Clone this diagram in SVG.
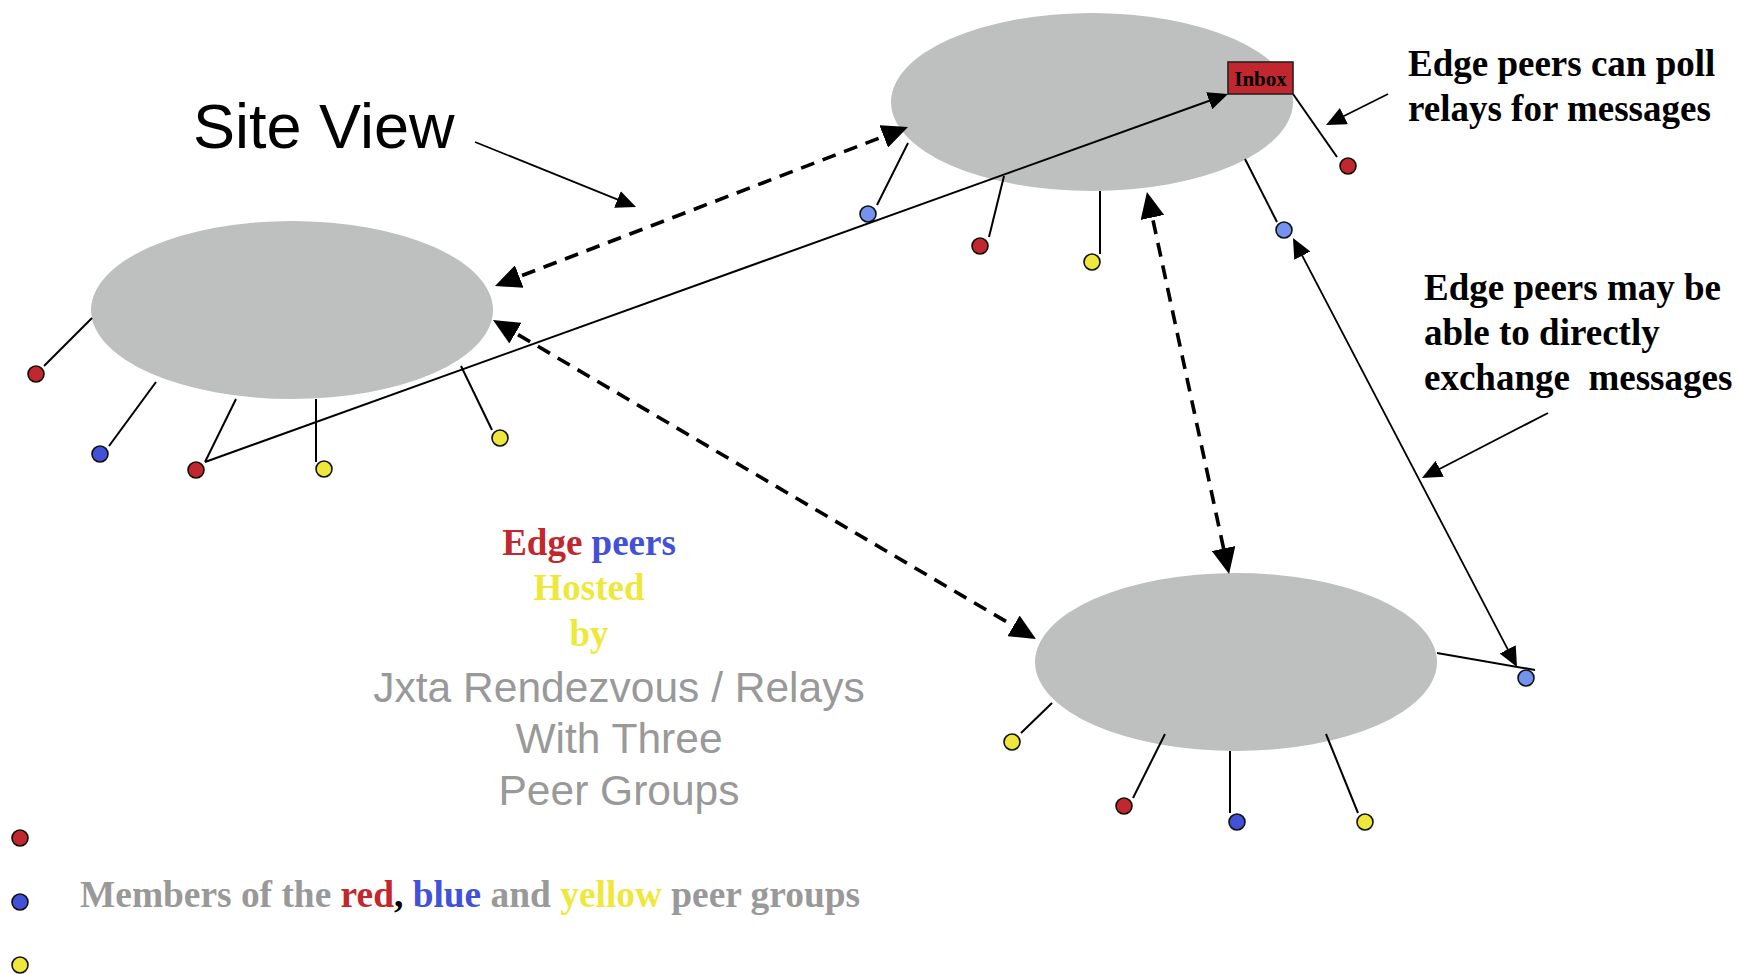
<svg xmlns="http://www.w3.org/2000/svg" width="1738" height="974" viewBox="0 0 1738 974">
  <style>
    .relay { fill: #BEC0BF; }
    .tie { stroke: #000; stroke-width: 2; fill: none; }
    .peer { stroke: #111; stroke-width: 1.6; }
    .red { fill: #C1272D; }
    .blue { fill: #4350D8; }
    .lblue { fill: #7393EE; }
    .yellow { fill: #EFE83C; }
    .link { stroke: #000; fill: none; }
    .dash { stroke-width: 3.6; stroke-dasharray: 14 9; }
    .thin { stroke-width: 1.8; }
    .note { font-family: "Liberation Serif", "Times New Roman", serif; font-weight: bold; font-size: 37px; }
    .ink { fill: #000; }
    .sans { font-family: "Liberation Sans", Arial, sans-serif; }
    .grey { fill: #999999; }
    .t-red { fill: #C1272D; }
    .t-blue { fill: #4350D8; }
    .t-yellow { fill: #EFE83C; }
  </style>
  <defs>
    <marker id="bigHead" viewBox="0 0 26 24" refX="20" refY="12" markerWidth="26" markerHeight="24" markerUnits="userSpaceOnUse" orient="auto-start-reverse">
      <path d="M0,0 L26,12 L0,24 z" fill="#000"/>
    </marker>
    <marker id="smallHead" viewBox="0 0 20 18" refX="15" refY="9" markerWidth="20" markerHeight="18" markerUnits="userSpaceOnUse" orient="auto-start-reverse">
      <path d="M0,0 L20,9 L0,18 z" fill="#000"/>
    </marker>
  </defs>

  <rect width="1738" height="974" fill="#fff"/>

  <!-- relay on the left with its edge peers -->
  <g id="relay-left">
    <ellipse class="relay" cx="292" cy="310" rx="201" ry="89"/>
    <line class="tie" x1="92" y1="318" x2="44" y2="366"/>
    <line class="tie" x1="156" y1="382" x2="109" y2="446"/>
    <line class="tie" x1="236" y1="399" x2="205" y2="462"/>
    <line class="tie" x1="316" y1="399" x2="316" y2="462"/>
    <line class="tie" x1="461" y1="366" x2="492" y2="430"/>
    <circle class="peer red" cx="36" cy="374" r="8"/>
    <circle class="peer blue" cx="100" cy="454" r="8"/>
    <circle class="peer red" cx="196" cy="470" r="8"/>
    <circle class="peer yellow" cx="324" cy="469" r="8"/>
    <circle class="peer yellow" cx="500" cy="438" r="8"/>
  </g>

  <!-- relay at the top with its inbox and edge peers -->
  <g id="relay-top">
    <ellipse class="relay" cx="1092" cy="102" rx="201" ry="89"/>
    <line class="tie" x1="908" y1="143" x2="877" y2="205"/>
    <line class="tie" x1="1004" y1="176" x2="989" y2="237"/>
    <line class="tie" x1="1100" y1="191" x2="1100" y2="254"/>
    <line class="tie" x1="1245" y1="159" x2="1277" y2="222"/>
    <line class="tie" x1="1293" y1="94" x2="1337" y2="157"/>
    <circle class="peer lblue" cx="868" cy="214" r="8"/>
    <circle class="peer red" cx="980" cy="246" r="8"/>
    <circle class="peer yellow" cx="1092" cy="262" r="8"/>
    <circle class="peer lblue" cx="1284" cy="230" r="8"/>
    <circle class="peer red" cx="1348" cy="166" r="8"/>
  </g>

  <g id="inbox">
    <rect x="1228" y="62" width="65" height="32" fill="#C1272D" stroke="#222" stroke-width="1.6"/>
    <text x="1260.5" y="86" text-anchor="middle" font-family="Liberation Serif, Times New Roman, serif" font-weight="bold" font-size="21" fill="#000">Inbox</text>
  </g>

  <!-- relay at the bottom right with its edge peers -->
  <g id="relay-bottom">
    <ellipse class="relay" cx="1236" cy="662" rx="201" ry="89"/>
    <line class="tie" x1="1052" y1="703" x2="1021" y2="733"/>
    <line class="tie" x1="1165" y1="734" x2="1133" y2="798"/>
    <line class="tie" x1="1230" y1="751" x2="1230" y2="813"/>
    <line class="tie" x1="1326" y1="734" x2="1358" y2="813"/>
    <line class="tie" x1="1437" y1="653" x2="1535" y2="670"/>
    <circle class="peer yellow" cx="1012" cy="742" r="8"/>
    <circle class="peer red" cx="1124" cy="806" r="8"/>
    <circle class="peer blue" cx="1237" cy="822" r="8"/>
    <circle class="peer yellow" cx="1365" cy="822" r="8"/>
    <circle class="peer lblue" cx="1526" cy="678" r="8"/>
  </g>

  <!-- connectors -->
  <g id="connectors">
    <line class="link dash" x1="500.6" y1="283.8" x2="902.4" y2="129.2" marker-start="url(#bigHead)" marker-end="url(#bigHead)"/>
    <line class="link dash" x1="498.2" y1="323" x2="1030.8" y2="636" marker-start="url(#bigHead)" marker-end="url(#bigHead)"/>
    <line class="link dash" x1="1148.2" y1="197.9" x2="1227.8" y2="568.1" marker-start="url(#bigHead)" marker-end="url(#bigHead)"/>
    <line class="link" stroke-width="2" x1="205" y1="462" x2="1223.3" y2="95.7" marker-end="url(#smallHead)"/>
    <line class="link thin" x1="1295.3" y1="242.4" x2="1514.7" y2="662.6" marker-start="url(#smallHead)" marker-end="url(#smallHead)"/>
    <line class="link thin" x1="475" y1="142" x2="631.4" y2="205.1" marker-end="url(#smallHead)"/>
    <line class="link thin" x1="1388" y1="94" x2="1330.5" y2="122.8" marker-end="url(#smallHead)"/>
    <line class="link thin" x1="1548" y1="413" x2="1426.4" y2="475.7" marker-end="url(#smallHead)"/>
  </g>

  <!-- titles and notes -->
  <g id="title">
    <text class="sans ink" x="193" y="148" font-size="63">Site View</text>
  </g>

  <g id="note-poll">
    <text class="note ink" x="1408" y="76">Edge peers can poll</text>
    <text class="note ink" x="1408" y="121">relays for messages</text>
  </g>

  <g id="note-direct">
    <text class="note ink" x="1424" y="300">Edge peers may be</text>
    <text class="note ink" x="1424" y="345">able to directly</text>
    <text class="note ink" x="1424" y="390" style="white-space:pre">exchange  messages</text>
  </g>

  <g id="caption">
    <text class="note" x="589" y="555" text-anchor="middle"><tspan class="t-red">Edge</tspan> <tspan class="t-blue">peers</tspan></text>
    <text class="note t-yellow" x="589" y="600" text-anchor="middle">Hosted</text>
    <text class="note t-yellow" x="589" y="646" text-anchor="middle">by</text>
    <text class="sans grey" x="619" y="702" font-size="42.5" text-anchor="middle">Jxta Rendezvous / Relays</text>
    <text class="sans grey" x="619" y="753" font-size="42.5" text-anchor="middle">With Three</text>
    <text class="sans grey" x="619" y="805" font-size="42.5" text-anchor="middle">Peer Groups</text>
  </g>

  <!-- legend -->
  <g id="legend">
    <circle class="peer red" cx="20" cy="838" r="8"/>
    <circle class="peer blue" cx="20" cy="902" r="8"/>
    <circle class="peer yellow" cx="20" cy="965" r="8"/>
    <text class="note grey" x="80" y="907" font-size="37.4" style="font-size:37.4px">Members of the <tspan class="t-red">red</tspan><tspan class="ink">,</tspan> <tspan class="t-blue">blue</tspan> and <tspan class="t-yellow">yellow</tspan> peer groups</text>
  </g>
</svg>
